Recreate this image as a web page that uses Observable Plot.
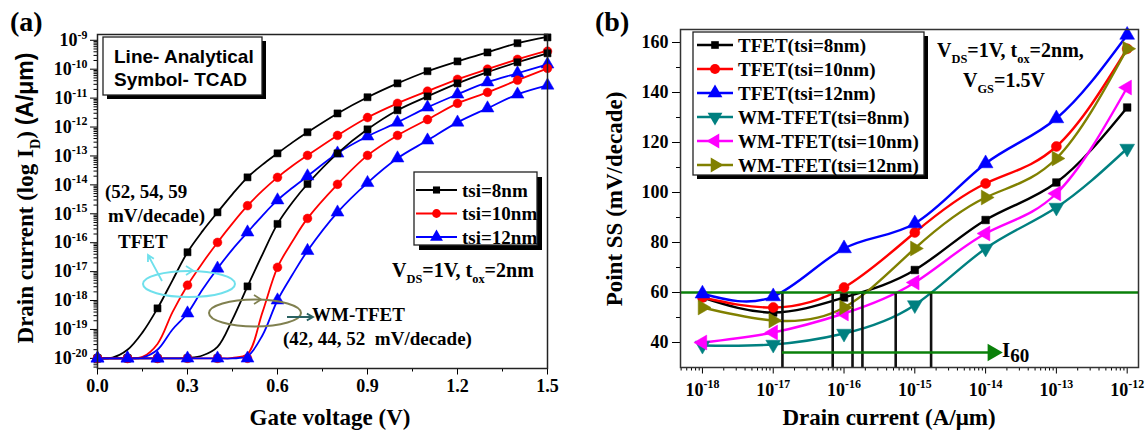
<!DOCTYPE html>
<html><head><meta charset="utf-8">
<script src="https://cdn.jsdelivr.net/npm/d3@7"></script>
<script src="https://cdn.jsdelivr.net/npm/@observablehq/plot@0.6"></script>
<style>
html,body{margin:0;padding:0;background:#fff;}
#wrap{position:relative;width:1145px;height:435px;overflow:hidden;background:#fff;}
#wrap > svg{position:absolute;top:0;}
</style></head><body><div id="wrap"></div>
<script>
const SERIF = "'Liberation Serif','Times New Roman',serif";
const SANS = "'Liberation Sans',Arial,sans-serif";

// ================= Panel (a): ID–VGS (log10 of drain current, A/um) =================
const vgTCAD = [0,0.1,0.2,0.3,0.4,0.5,0.6,0.7,0.8,0.9,1.0,1.1,1.2,1.3,1.4,1.5];
const tfet8TCAD  = [-20,-20,-18.27,-16.33,-14.95,-13.74,-12.91,-12.18,-11.53,-10.97,-10.49,-10.07,-9.73,-9.42,-9.10,-8.90];
const tfet10TCAD = [-20,-20,-20,-17.47,-15.99,-14.72,-13.74,-12.98,-12.29,-11.67,-11.18,-10.76,-10.35,-10.0,-9.66,-9.38];
const tfet12TCAD = [-20,-20,-20,-18.44,-16.89,-15.64,-14.53,-13.70,-12.91,-12.32,-11.84,-11.32,-10.87,-10.45,-10.14,-9.83];
const wm8TCAD    = [-20,-20,-20,-20,-20,-17.51,-15.35,-13.97,-12.91,-12.08,-11.42,-10.94,-10.49,-10.10,-9.76,-9.45];
const wm10TCAD   = [-20,-20,-20,-20,-20,-20,-16.85,-15.16,-13.98,-12.98,-12.29,-11.74,-11.18,-10.80,-10.38,-9.97];
const wm12TCAD   = [-20,-20,-20,-20,-20,-20,-17.99,-16.28,-14.95,-13.93,-13.08,-12.46,-11.84,-11.35,-10.87,-10.56];

const vgModel = [0,0.05,0.1,0.15,0.2,0.25,0.3,0.35,0.4,0.45,0.5,0.55,0.6,0.65,0.7,0.8,0.9,1.0,1.1,1.2,1.3,1.4,1.5];
const tfet8Model  = [-20,-19.97,-19.7,-19.1,-18.27,-17.3,-16.33,-15.6,-14.95,-14.32,-13.74,-13.3,-12.91,-12.53,-12.18,-11.53,-10.97,-10.49,-10.07,-9.73,-9.42,-9.10,-8.88];
const tfet10Model = [-20,-20,-20,-19.95,-19.5,-18.4,-17.47,-16.7,-15.99,-15.33,-14.72,-14.2,-13.74,-13.34,-12.98,-12.29,-11.67,-11.18,-10.76,-10.35,-10.0,-9.66,-9.36];
const tfet12Model = [-20,-20,-20,-19.97,-19.7,-19.0,-18.44,-17.62,-16.89,-16.23,-15.64,-15.06,-14.53,-14.1,-13.70,-12.91,-12.32,-11.84,-11.32,-10.87,-10.45,-10.14,-9.83];
const wm8Model    = [-20,-20,-20,-20,-20,-20,-19.98,-19.9,-19.6,-18.65,-17.51,-16.4,-15.35,-14.6,-13.97,-12.91,-12.08,-11.42,-10.94,-10.49,-10.10,-9.76,-9.45];
const wm10Model   = [-20,-20,-20,-20,-20,-20,-20,-20,-20,-19.98,-19.85,-18.4,-16.85,-15.95,-15.16,-13.98,-12.98,-12.29,-11.74,-11.18,-10.80,-10.38,-9.97];
const wm12Model   = [-20,-20,-20,-20,-20,-20,-20,-20,-20,-20,-19.92,-19.2,-17.99,-17.1,-16.28,-14.95,-13.93,-13.08,-12.46,-11.84,-11.35,-10.87,-10.56];

const xTicksA = [0,0.3,0.6,0.9,1.2,1.5];
const xMinorA = [0.15,0.45,0.75,1.05,1.35];
const yExpA = [-20,-19,-18,-17,-16,-15,-14,-13,-12,-11,-10,-9];
const legendA = ["tsi=8nm","tsi=10nm","tsi=12nm"];

// ================= Panel (b): point SS vs drain current =================
const drainCurrent = [1e-18,1e-17,1e-16,1e-15,1e-14,1e-13,1e-12];
const ssTfet8  = [58,52,58,69,89,104,134];
const ssTfet10 = [58,54,62,84,103.6,118.4,157.5];
const ssTfet12 = [59.5,58.4,77.6,87.6,111.6,129.6,163];
const ssWm8    = [38.8,39.2,43.6,55,77.6,94,117.6];
const ssWm10   = [40,44,51.6,64,83.6,99.6,142];
const ssWm12   = [54,48.8,54,77.6,98,113.6,157.5];
const i60 = [10**-16.87,10**-16.16,10**-15.88,10**-15.74,10**-15.27,10**-14.77];
const ssRef = 60, arrowLevel = 36, arrowEnd = 10**-13.9;
const yTicksB = [40,60,80,100,120,140,160];
const yMinorB = [50,70,90,110,130,150];
const xExpB = [-18,-17,-16,-15,-14,-13,-12];
const legendB = ["TFET(tsi=8nm)","TFET(tsi=10nm)","TFET(tsi=12nm)","WM-TFET(tsi=8nm)","WM-TFET(tsi=10nm)","WM-TFET(tsi=12nm)"];

// ---------------- styles ----------------
const stylesA = [
  {color:"#000000", symbol:"square",   r:4.0},
  {color:"#ff0000", symbol:"circle",   r:4.4},
  {color:"#0000ff", symbol:"triangle", r:4.8}
];
const seriesA = [
  {model:tfet8Model,  tcad:tfet8TCAD,  ...stylesA[0]},
  {model:tfet10Model, tcad:tfet10TCAD, ...stylesA[1]},
  {model:tfet12Model, tcad:tfet12TCAD, ...stylesA[2]},
  {model:wm8Model,    tcad:wm8TCAD,    ...stylesA[0]},
  {model:wm10Model,   tcad:wm10TCAD,   ...stylesA[1]},
  {model:wm12Model,   tcad:wm12TCAD,   ...stylesA[2]}
];
const seriesB = [
  {ss:ssTfet8,  color:"#000000", symbol:"square",   rotate:0,   r:4.3},
  {ss:ssTfet10, color:"#ff0000", symbol:"circle",   rotate:0,   r:5},
  {ss:ssTfet12, color:"#0000ff", symbol:"triangle", rotate:0,   r:5.5},
  {ss:ssWm8,    color:"#008080", symbol:"triangle", rotate:180, r:5.5},
  {ss:ssWm10,   color:"#ff00ff", symbol:"triangle", rotate:-90, r:5.5},
  {ss:ssWm12,   color:"#808000", symbol:"triangle", rotate:90,  r:5.5}
];

const minorLog = (lo, hi, dmin, dmax) => {
  const out = [];
  for (let e = lo; e <= hi; e++) for (let m = 2; m <= 9; m++) { const v = m * 10 ** e; if (v > dmin && v < dmax) out.push(v); }
  return out;
};
const expFmt = d => "10^" + Math.round(Math.log10(d));

// ---------------- Panel (a) plot ----------------
const yDomA = [10 ** -20.35, 10 ** -8.8];
const rowsA = (xs, logs) => xs.map((x, i) => ({x, y: 10 ** logs[i]}));
const plotA = Plot.plot({
  width: 560, height: 435,
  marginLeft: 97, marginRight: 13, marginTop: 34, marginBottom: 67,
  style: {fontFamily: SERIF, fontWeight: "bold", fontSize: "18px", color: "#000", background: "transparent"},
  x: {domain: [0, 1.5], label: null},
  y: {type: "log", domain: yDomA, label: null},
  marks: [
    Plot.axisX(xMinorA, {tickSize: 3.5, tickFormat: () => "", label: null}),
    Plot.axisX(xTicksA, {tickSize: 6.5, tickPadding: 4, tickFormat: d => d.toFixed(1), label: null}),
    Plot.axisY(minorLog(-21, -9, yDomA[0], yDomA[1]), {tickSize: 3.5, tickFormat: () => "", label: null}),
    Plot.axisY(yExpA.map(e => 10 ** e), {tickSize: 7, tickPadding: 3, tickFormat: expFmt, label: null}),
    ...seriesA.map(s => Plot.line(rowsA(vgModel, s.model), {x: "x", y: "y", stroke: s.color, strokeWidth: 1.8, curve: "catmull-rom"})),
    ...seriesA.map(s => Plot.dot(rowsA(vgTCAD, s.tcad), {x: "x", y: "y", symbol: s.symbol, fill: s.color, stroke: s.color, strokeWidth: 0.5, r: s.r})),
    Plot.frame({stroke: "#222", strokeWidth: 1.5})
  ]
});

// ---------------- Panel (b) plot ----------------
const yDomB = [30, 165.2];
const xDomB = [10 ** -18.31, 10 ** -11.84];
const plotB = Plot.plot({
  width: 585, height: 435,
  marginLeft: 120, marginRight: 7, marginTop: 29, marginBottom: 68,
  style: {fontFamily: SERIF, fontWeight: "bold", fontSize: "18px", color: "#000", background: "transparent"},
  x: {type: "log", domain: xDomB, label: null},
  y: {domain: yDomB, label: null},
  marks: [
    Plot.axisX(minorLog(-19, -12, xDomB[0], xDomB[1]), {tickSize: 3.5, tickFormat: () => "", label: null}),
    Plot.axisX(xExpB.map(e => 10 ** e), {tickSize: 6.5, tickPadding: 9, tickFormat: expFmt, label: null}),
    Plot.axisY(yMinorB, {tickSize: 4, tickFormat: () => "", label: null}),
    Plot.axisY(yTicksB, {tickSize: 8, tickPadding: 4, label: null}),
    ...seriesB.map(s => Plot.line(drainCurrent.map((x, i) => ({x, y: s.ss[i]})), {x: "x", y: "y", stroke: s.color, strokeWidth: 2.4, curve: "natural"})),
    Plot.ruleX(i60, {y1: yDomB[0], y2: ssRef, stroke: "#111", strokeWidth: 2.6}),
    Plot.ruleY([ssRef], {stroke: "#0a800a", strokeWidth: 2.4}),
    Plot.ruleY([arrowLevel], {x1: i60[0], x2: arrowEnd, stroke: "#0a800a", strokeWidth: 2.4}),
    Plot.dot([arrowEnd], {x: d => d, y: arrowLevel, symbol: "triangle", rotate: 90, r: 6.5, fill: "#0a800a"}),
    ...seriesB.map(s => Plot.dot(drainCurrent.map((x, i) => ({x, y: s.ss[i]})), {x: "x", y: "y", symbol: s.symbol, rotate: s.rotate, fill: s.color, stroke: s.color, strokeWidth: 0.5, r: s.r})),
    Plot.frame({stroke: "#333", strokeWidth: 1.5})
  ]
});

const wrap = document.getElementById("wrap");
plotA.style.left = "0px";
plotB.style.left = "560px";
wrap.appendChild(plotA);
wrap.appendChild(plotB);

// superscript exponents in tick labels
function supify(svg) {
  d3.select(svg).selectAll("text").each(function () {
    const m = /^10\^(-?\d+)$/.exec(this.textContent);
    if (!m) return;
    const sel = d3.select(this);
    sel.text(null);
    sel.append("tspan").text("10");
    sel.append("tspan").attr("dy", "-0.62em").style("font-size", "0.66em").text(m[1]);
  });
}
supify(plotA); supify(plotB);

// ---------------- text / annotation helpers ----------------
function addText(g, x, y, parts, {size = 19, family = SERIF, anchor = "start", rotate = 0, weight = "bold"} = {}) {
  const t = g.append("text").attr("x", x).attr("y", y).attr("font-size", size)
    .attr("font-family", family).attr("font-weight", weight).attr("text-anchor", anchor)
    .attr("fill", "#000").style("white-space", "pre");
  if (rotate) t.attr("transform", `rotate(${rotate},${x},${y})`);
  let shift = 0;
  for (const p of parts) {
    const [str, kind, fam] = typeof p === "string" ? [p, null, null] : p;
    const ts = t.append("tspan").text(str);
    const target = kind === "sub" ? 0.32 * size : kind === "sup" ? -0.4 * size : 0;
    if (target !== shift) { ts.attr("dy", target - shift); shift = target; }
    if (kind) ts.attr("font-size", size * 0.62);
    if (fam) ts.attr("font-family", fam);
  }
  return t;
}
function shadowBox(g, x, y, w, h, off) {
  g.append("rect").attr("x", x + off).attr("y", y + off).attr("width", w).attr("height", h).attr("fill", "#000");
  g.append("rect").attr("x", x).attr("y", y).attr("width", w).attr("height", h).attr("fill", "#fff").attr("stroke", "#222").attr("stroke-width", 1.3);
}
const symType = {square: d3.symbolSquare, circle: d3.symbolCircle, triangle: d3.symbolTriangle};
function legendRow(g, x1, x2, y, s, text, size, r, lw) {
  g.append("line").attr("x1", x1).attr("x2", x2).attr("y1", y).attr("y2", y).attr("stroke", s.color).attr("stroke-width", lw);
  g.append("path").attr("d", d3.symbol(symType[s.symbol], Math.PI * r * r)())
    .attr("transform", `translate(${(x1 + x2) / 2},${y}) rotate(${s.rotate || 0})`).attr("fill", s.color);
  addText(g, x2 + 5, y + 6.5, [text], {size});
}
function arrowPath(x1, y1, x2, y2, len = 7, ang = 0.5) {
  const a = Math.atan2(y2 - y1, x2 - x1);
  const p1 = [x2 - len * Math.cos(a - ang), y2 - len * Math.sin(a - ang)];
  const p2 = [x2 - len * Math.cos(a + ang), y2 - len * Math.sin(a + ang)];
  return `M${x1},${y1}L${x2},${y2}M${p1}L${x2},${y2}L${p2}`;
}

// ---------------- Panel (a) overlay ----------------
const gA = d3.select(plotA).append("g");
addText(gA, 10, 31, ["(a)"], {size: 28});
addText(gA, 33, 198, ["Drain current (log I", ["D", "sub"], ") ", ["(A/μm)", null, SANS]], {size: 23, anchor: "middle", rotate: -90});
addText(gA, 330, 425, ["Gate voltage (V)"], {size: 23, anchor: "middle"});
shadowBox(gA, 103, 37, 159, 58, 4);
addText(gA, 114, 63, ["Line- Analytical"], {size: 19, family: SANS});
addText(gA, 114, 86, ["Symbol- TCAD"], {size: 19, family: SANS});
shadowBox(gA, 414, 172, 123, 73, 5);
legendA.forEach((t, i) => legendRow(gA, 416, 457, 190 + i * 23.5, stylesA[i], t, 19, stylesA[i].r, 2));
addText(gA, 105, 198, ["(52, 54, 59"], {size: 19});
addText(gA, 108, 222, ["mV/decade)"], {size: 19});
addText(gA, 118, 248, ["TFET"], {size: 19});
addText(gA, 312, 321, ["WM-TFET"], {size: 19});
addText(gA, 283, 345, ["(42, 44, 52  mV/decade)"], {size: 19});
addText(gA, 392, 277, ["V", ["DS", "sub"], "=1V, t", ["ox", "sub"], "=2nm"], {size: 20});
// ellipses & arrows
gA.append("ellipse").attr("cx", 189).attr("cy", 284).attr("rx", 46).attr("ry", 13).attr("fill", "none").attr("stroke", "#6fe0ec").attr("stroke-width", 2);
gA.append("path").attr("d", "M186,266L193,270.5L186,275").attr("fill", "none").attr("stroke", "#6fe0ec").attr("stroke-width", 1.8);
gA.append("path").attr("d", arrowPath(162, 281, 148, 255)).attr("fill", "none").attr("stroke", "#6fe0ec").attr("stroke-width", 1.8);
gA.append("ellipse").attr("cx", 255).attr("cy", 313).attr("rx", 46).attr("ry", 13.5).attr("fill", "none").attr("stroke", "#808050").attr("stroke-width", 2);
gA.append("path").attr("d", "M254,295L261,299.5L254,304").attr("fill", "none").attr("stroke", "#808050").attr("stroke-width", 1.8);
gA.append("path").attr("d", arrowPath(287, 317, 313, 317)).attr("fill", "none").attr("stroke", "#2a6262").attr("stroke-width", 1.8);

// ---------------- Panel (b) overlay ----------------
const gB = d3.select(plotB).append("g");
addText(gB, 35, 31, ["(b)"], {size: 28});
addText(gB, 62, 199, ["Point SS (mV/decade)"], {size: 23, anchor: "middle", rotate: -90});
addText(gB, 329, 425, ["Drain current (A/μm)"], {size: 23, anchor: "middle"});
shadowBox(gB, 133, 32, 231, 143, 4);
legendB.forEach((t, i) => legendRow(gB, 137, 173, 45 + i * 24, seriesB[i], t, 19, seriesB[i].r, 2.4));
addText(gB, 377, 57, ["V", ["DS", "sub"], "=1V, t", ["ox", "sub"], "=2nm,"], {size: 20});
addText(gB, 403, 87, ["V", ["GS", "sub"], "=1.5V"], {size: 20});
const i60t = addText(gB, 442, 357, ["I"], {size: 21});
i60t.append("tspan").attr("dy", 5).attr("font-size", 19).text("60");
</script></body></html>
